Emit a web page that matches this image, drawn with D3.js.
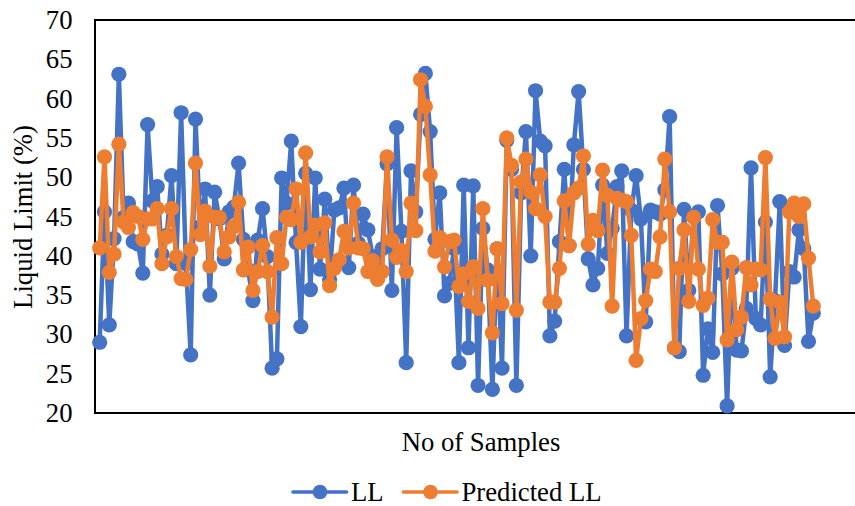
<!DOCTYPE html>
<html>
<head>
<meta charset="utf-8">
<script src="https://cdn.jsdelivr.net/npm/d3@7"></script>
<style>
body { margin: 0; background: #fff; }
text { font-family: "Liberation Serif", serif; fill: #000; }
</style>
</head>
<body>
<div id="chart-area"></div>
<script>
const yTicks = [20, 25, 30, 35, 40, 45, 50, 55, 60, 65, 70];

const seriesNames = ['LL', 'Predicted LL'];

const ll = [
	29.0, 45.6, 31.2, 42.2, 63.1, 44.9, 46.7, 41.8, 41.5, 37.8,
	56.7, 47.0, 48.8, 40.2, 42.6, 50.2, 39.0, 58.2, 39.0, 27.4,
	57.4, 43.7, 48.5, 35.0, 48.1, 44.7, 39.6, 45.6, 46.2, 51.8,
	42.1, 38.2, 34.3, 42.0, 46.0, 39.9, 25.7, 26.9, 49.9, 46.7,
	54.6, 41.7, 31.0, 50.5, 35.7, 49.9, 38.3, 47.2, 37.0, 45.8,
	46.1, 48.6, 38.5, 49.0, 41.6, 45.3, 43.3, 39.9, 38.2, 40.9,
	51.7, 35.6, 56.3, 43.1, 26.4, 50.8, 45.6, 58.0, 63.2, 55.8,
	42.1, 48.0, 34.9, 36.5, 40.9, 26.4, 49.0, 28.3, 48.9, 23.5,
	43.5, 38.2, 23.0, 40.9, 25.7, 54.7, 51.0, 23.5, 48.0, 55.8,
	40.0, 61.0, 54.6, 54.0, 29.8, 31.7, 41.8, 51.0, 41.3, 54.1,
	60.9, 51.0, 39.6, 36.3, 38.4, 49.0, 40.3, 43.5, 48.8, 50.8,
	29.8, 45.8, 50.2, 44.7, 31.6, 45.8, 45.6, 45.3, 48.4, 57.7,
	28.3, 27.8, 45.9, 35.6, 45.0, 45.6, 24.8, 30.7, 27.7, 46.4,
	37.7, 20.9, 38.4, 28.0, 27.9, 33.3, 51.2, 32.0, 31.2, 44.3,
	24.6, 34.3, 46.9, 28.6, 38.0, 37.3, 43.3, 40.9, 29.1, 32.7
];

const predictedLl = [
	41.0, 52.6, 37.9, 40.2, 54.2, 44.3, 43.6, 45.5, 45.0, 42.1,
	44.7, 44.7, 46.0, 39.0, 42.4, 46.0, 39.9, 37.1, 37.0, 40.8,
	51.8, 42.7, 45.7, 38.7, 44.9, 44.9, 40.5, 42.4, 43.7, 46.8,
	38.2, 41.1, 35.6, 38.0, 41.3, 38.0, 32.2, 42.3, 39.0, 44.9,
	44.6, 48.5, 41.7, 53.1, 42.4, 43.9, 40.5, 44.2, 36.2, 38.4,
	39.5, 43.1, 41.0, 46.7, 41.0, 40.9, 38.0, 39.4, 37.0, 38.0,
	52.6, 42.0, 39.8, 40.7, 38.0, 46.7, 43.2, 62.4, 59.0, 50.3,
	40.6, 42.3, 38.6, 41.8, 42.0, 36.1, 37.7, 34.2, 38.6, 33.3,
	46.0, 36.9, 30.2, 40.9, 33.9, 55.0, 51.5, 33.1, 49.4, 52.3,
	48.1, 46.0, 50.3, 45.0, 34.1, 34.1, 38.4, 47.0, 41.3, 48.0,
	48.6, 52.7, 41.5, 44.5, 43.2, 50.9, 47.7, 33.6, 47.3, 47.1,
	46.9, 42.6, 26.7, 32.0, 34.3, 38.3, 38.0, 42.4, 52.3, 45.6,
	28.3, 38.4, 43.3, 34.2, 44.9, 38.3, 33.7, 34.6, 44.6, 41.7,
	41.7, 29.3, 39.2, 30.6, 32.2, 38.5, 36.3, 38.3, 38.2, 52.5,
	34.5, 29.5, 34.1, 29.7, 45.6, 46.7, 45.0, 46.6, 39.7, 33.6
];

const colors = ['#4472C4', '#ED7D31'];

const width = 855;
const height = 506;
const plot = { left: 95, right: 857, top: 20, bottom: 413 };

const svg = d3.select('#chart-area')
	.append('svg')
		.attr('width', width)
		.attr('height', height)
		.style('display', 'block');

const xScale = d3.scalePoint()
	.domain(d3.range(ll.length))
	.range([99.7, 813.3]);

const yScale = d3.scaleLinear()
	.domain([20, 70])
	.range([plot.bottom, plot.top]);

// y axis, labels only
const yAxisCall = d3.axisLeft(yScale)
	.tickValues(yTicks)
	.tickSize(0)
	.tickPadding(22.5);

const yAxisGroup = svg.append('g')
	.attr('transform', `translate(${plot.left},0)`)
	.call(yAxisCall);
yAxisGroup.select('.domain').remove();
yAxisGroup.selectAll('text')
	.attr('font-size', 26.7)
	.style('font-family', '"Liberation Serif", serif');

// plot border
svg.append('rect')
	.attr('x', plot.left)
	.attr('y', plot.top)
	.attr('width', plot.right - plot.left)
	.attr('height', plot.bottom - plot.top)
	.attr('fill', 'none')
	.attr('stroke', '#000')
	.attr('stroke-width', 2);

const line = d3.line()
	.x((d, i) => xScale(i))
	.y(d => yScale(d));

[ll, predictedLl].forEach((values, s) => {
	const g = svg.append('g');
	g.append('path')
		.datum(values)
		.attr('d', line)
		.attr('fill', 'none')
		.attr('stroke', colors[s])
		.attr('stroke-width', 4.5)
		.attr('stroke-linejoin', 'round');
	g.selectAll('circle')
		.data(values)
		.enter()
		.append('circle')
			.attr('cx', (d, i) => xScale(i))
			.attr('cy', d => yScale(d))
			.attr('r', 7.6)
			.attr('fill', colors[s]);
});

svg.append('text')
	.attr('x', 481)
	.attr('y', 451)
	.attr('text-anchor', 'middle')
	.attr('font-size', 26.7)
	.text('No of Samples');

svg.append('text')
	.attr('transform', 'translate(32,217) rotate(-90)')
	.attr('text-anchor', 'middle')
	.attr('font-size', 26.7)
	.text('Liquid Limit (%)');

// legend
const legendX = [293, 403.5];
const legend = svg.append('g');
seriesNames.forEach((name, i) => {
	const row = legend.append('g')
		.attr('transform', `translate(${legendX[i]},492)`);
	row.append('line')
		.attr('x1', 0)
		.attr('x2', 53.5)
		.attr('stroke', colors[i])
		.attr('stroke-width', 3.6)
		.attr('stroke-linecap', 'round');
	row.append('circle')
		.attr('cx', 27)
		.attr('r', 7.3)
		.attr('fill', colors[i]);
	row.append('text')
		.attr('x', 58)
		.attr('y', 9)
		.attr('font-size', 26.7)
		.text(name);
});
</script>
</body>
</html>
